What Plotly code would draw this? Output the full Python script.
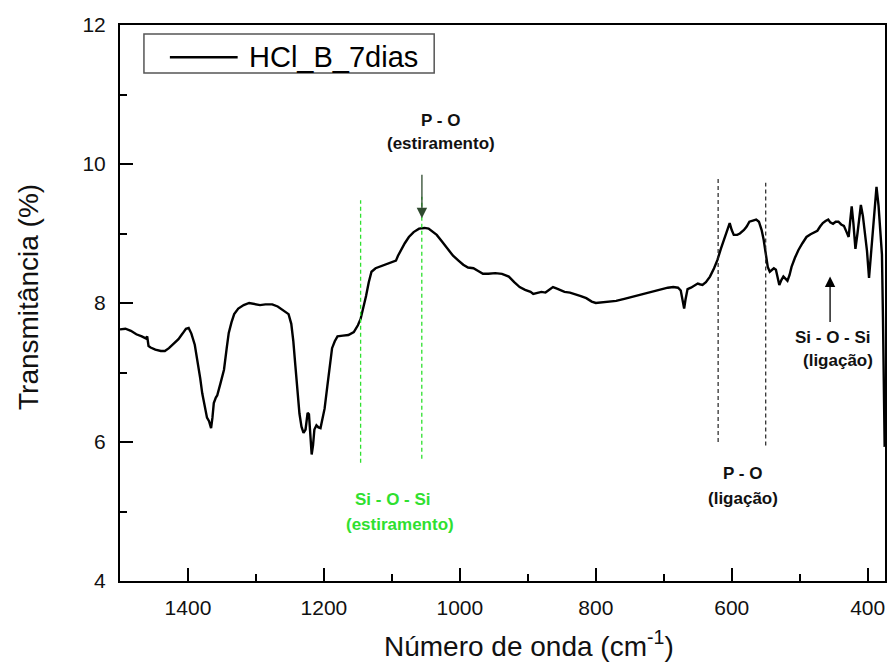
import plotly.graph_objects as go

# ---- spectrum data ----
wavenumber = [
    1500, 1492, 1484, 1476, 1468, 1462, 1460, 1458, 1455, 1448, 1440, 1434, 1428, 1420, 1414, 1408,
    1403, 1399, 1395, 1390, 1386, 1382, 1379, 1375, 1372, 1369, 1366, 1364, 1362, 1359, 1357, 1352,
    1347, 1343, 1340, 1336, 1332, 1326, 1318, 1310, 1302, 1294, 1286, 1276, 1268, 1262, 1256, 1252,
    1248, 1245, 1242, 1239, 1236, 1233, 1230, 1227, 1224, 1222, 1220, 1218, 1216, 1214, 1211, 1208,
    1205, 1202, 1199, 1195, 1192, 1188, 1184, 1180, 1172, 1164, 1156, 1150, 1146, 1142, 1138, 1134,
    1130, 1124, 1116, 1108, 1100, 1094, 1091, 1087, 1081, 1075, 1068, 1060, 1052, 1046, 1040, 1034,
    1026, 1018, 1010, 1002, 995, 988, 980, 973, 966, 958, 948, 938, 928, 920, 912, 904,
    896, 892, 886, 880, 874, 868, 863, 858, 852, 846, 838, 830, 822, 814, 806, 800,
    792, 782, 770, 758, 746, 736, 726, 714, 704, 694, 686, 679, 675, 672, 670, 668,
    665, 660, 654, 650, 647, 643, 638, 632, 626, 621, 616, 611, 606, 603, 600, 597,
    592, 588, 582, 578, 574, 568, 564, 560, 556, 553, 550, 547, 544, 541, 538, 535,
    532, 530, 527, 524, 521, 518, 515, 512, 507, 502, 496, 490, 484, 478, 474, 470,
    466, 462, 458, 455, 451, 447, 443, 439, 435, 431, 428, 426, 423.5, 421, 418, 415,
    412, 410, 407, 404, 401, 398, 394, 390, 387, 384, 381, 379, 377.5, 376.5, 375.5, 375,
]
transmittance = [
    7.62, 7.63, 7.60, 7.55, 7.52, 7.49, 7.52, 7.38, 7.36, 7.33, 7.31, 7.31, 7.35, 7.42, 7.48, 7.56,
    7.63, 7.64, 7.56, 7.40, 7.18, 6.92, 6.70, 6.48, 6.35, 6.30, 6.20, 6.35, 6.56, 6.64, 6.67, 6.85,
    7.04, 7.35, 7.57, 7.72, 7.84, 7.92, 7.97, 8.00, 7.99, 7.97, 7.98, 7.98, 7.95, 7.91, 7.87, 7.84,
    7.70, 7.45, 7.10, 6.75, 6.41, 6.22, 6.13, 6.18, 6.42, 6.40, 6.15, 5.82, 5.95, 6.18, 6.24, 6.21,
    6.20, 6.32, 6.48, 6.80, 7.05, 7.35, 7.45, 7.52, 7.53, 7.54, 7.58, 7.68, 7.77, 7.92, 8.10, 8.30,
    8.45, 8.50, 8.53, 8.56, 8.58, 8.61, 8.68, 8.76, 8.86, 8.95, 9.02, 9.07, 9.08, 9.07, 9.03, 8.98,
    8.88, 8.78, 8.68, 8.61, 8.55, 8.51, 8.50, 8.46, 8.42, 8.42, 8.43, 8.42, 8.38, 8.30, 8.23, 8.19,
    8.16, 8.13, 8.15, 8.16, 8.15, 8.19, 8.23, 8.21, 8.18, 8.16, 8.15, 8.13, 8.10, 8.07, 8.02, 8.00,
    8.01, 8.02, 8.03, 8.06, 8.09, 8.12, 8.14, 8.17, 8.19, 8.22, 8.23, 8.22, 8.18, 8.00, 7.92, 8.05,
    8.20, 8.22, 8.26, 8.28, 8.27, 8.26, 8.30, 8.38, 8.50, 8.62, 8.78, 8.93, 9.06, 9.15, 9.05, 8.98,
    8.98, 9.00, 9.05, 9.10, 9.17, 9.19, 9.20, 9.17, 9.05, 8.91, 8.70, 8.52, 8.45, 8.47, 8.50, 8.48,
    8.32, 8.26, 8.33, 8.38, 8.35, 8.32, 8.40, 8.52, 8.65, 8.76, 8.86, 8.95, 8.99, 9.02, 9.04, 9.10,
    9.15, 9.18, 9.20, 9.16, 9.14, 9.17, 9.17, 9.13, 9.11, 9.02, 8.95, 9.15, 9.39, 9.15, 8.78, 9.00,
    9.30, 9.41, 9.25, 9.00, 8.75, 8.36, 8.85, 9.35, 9.67, 9.40, 9.05, 8.70, 7.80, 7.00, 6.30, 5.93,
]

series_name = "HCl_B_7dias"

# band marker lines: positions and vertical extents
green_lines_x = [1146, 1056]
green_lines_y0 = [5.70, 5.76]
green_lines_y1 = [9.48, 9.53]
black_lines_x = [620, 550]
black_lines_y0 = [6.00, 5.95]
black_lines_y1 = [9.80, 9.73]

# labels
x_ticks = [1400, 1200, 1000, 800, 600, 400]
y_ticks = [4, 6, 8, 10, 12]

GREEN = "#2fe02f"
FONT = "Arial, Liberation Sans, sans-serif"

fig = go.Figure()
fig.add_trace(go.Scatter(
    x=wavenumber, y=transmittance, mode="lines", name=series_name,
    line=dict(color="black", width=2.4), showlegend=False,
))

shapes = []
for x, y0, y1 in zip(green_lines_x, green_lines_y0, green_lines_y1):
    shapes.append(dict(type="line", xref="x", yref="y", x0=x, x1=x, y0=y0, y1=y1,
                       line=dict(color=GREEN, width=1.3, dash="4px,3px")))
for x, y0, y1 in zip(black_lines_x, black_lines_y0, black_lines_y1):
    shapes.append(dict(type="line", xref="x", yref="y", x0=x, x1=x, y0=y0, y1=y1,
                       line=dict(color="#222222", width=1.2, dash="4px,3px")))

# manual legend box
shapes.append(dict(type="rect", xref="paper", yref="paper", x0=0.0313, x1=0.4107, y0=0.9137, y1=0.9838,
                   line=dict(color="#555555", width=1.5), fillcolor="white"))
shapes.append(dict(type="line", xref="paper", yref="paper", x0=0.0652, x1=0.1538, y0=0.942, y1=0.942,
                   line=dict(color="black", width=2.4)))

bold = dict(family=FONT, size=17, color="#111111")
gbold = dict(family=FONT, size=17, color=GREEN)
annotations = [
    dict(xref="paper", yref="paper", x=0.1656, y=0.942, xanchor="left", yanchor="middle",
         text=series_name, showarrow=False, font=dict(family=FONT, size=29, color="black")),
    dict(x=1028, y=10.63, text="<b>P - O</b>", showarrow=False, font=bold),
    dict(x=1028, y=10.29, text="<b>(estiramento)</b>", showarrow=False, font=bold),
    dict(x=1098, y=5.17, text="<b>Si - O - Si</b>", showarrow=False, font=gbold),
    dict(x=1088, y=4.82, text="<b>(estiramento)</b>", showarrow=False, font=gbold),
    dict(x=584, y=5.54, text="<b>P - O</b>", showarrow=False, font=bold),
    dict(x=584, y=5.18, text="<b>(ligação)</b>", showarrow=False, font=bold),
    dict(x=451, y=7.51, text="<b>Si - O - Si</b>", showarrow=False, font=bold),
    dict(x=443, y=7.17, text="<b>(ligação)</b>", showarrow=False, font=bold),
    dict(x=1055.8, y=9.22, ax=0, ay=-45, text="", showarrow=True, arrowhead=2, arrowsize=1.6,
         arrowwidth=1.3, arrowcolor="#2f4a2f"),
    dict(x=455.3, y=8.38, ax=0, ay=47, text="", showarrow=True, arrowhead=2, arrowsize=1.6,
         arrowwidth=1.3, arrowcolor="black"),
    # axis titles
    dict(xref="paper", yref="paper", x=0, y=0.5, xshift=-92, yshift=6, textangle=-90,
         text="Transmitância (%)", showarrow=False, xanchor="center", yanchor="middle",
         font=dict(family=FONT, size=28, color="#111111")),
    dict(xref="paper", yref="paper", x=0.535, y=0, yshift=-63, xanchor="center", yanchor="middle",
         text="Número de onda (cm<sup>-1</sup>)", showarrow=False,
         font=dict(family=FONT, size=28, color="#111111")),
]

axis_common = dict(
    showline=True, linecolor="black", linewidth=2, mirror=True,
    ticks="inside", ticklen=13, tickwidth=2, tickcolor="black",
    showgrid=False, zeroline=False,
    tickfont=dict(family=FONT, size=21, color="#111111"),
)

# the page body adds an 8px margin on every side, so the figure is sized to fit inside the window
fig.update_layout(
    width=880, height=654,
    margin=dict(l=112, r=1, t=17, b=81),
    paper_bgcolor="white", plot_bgcolor="white",
    shapes=shapes, annotations=annotations,
    xaxis=dict(range=[1500, 374.5], tickvals=x_ticks, ticklabelstandoff=7,
               minor=dict(ticks="inside", ticklen=7, tickwidth=2, tickcolor="black", dtick=100, tick0=0),
               **axis_common),
    yaxis=dict(range=[4, 12], tickvals=y_ticks, ticklabelstandoff=8,
               minor=dict(ticks="inside", ticklen=7, tickwidth=2, tickcolor="black", dtick=1, tick0=0),
               **axis_common),
)

fig.write_html("out.html")
